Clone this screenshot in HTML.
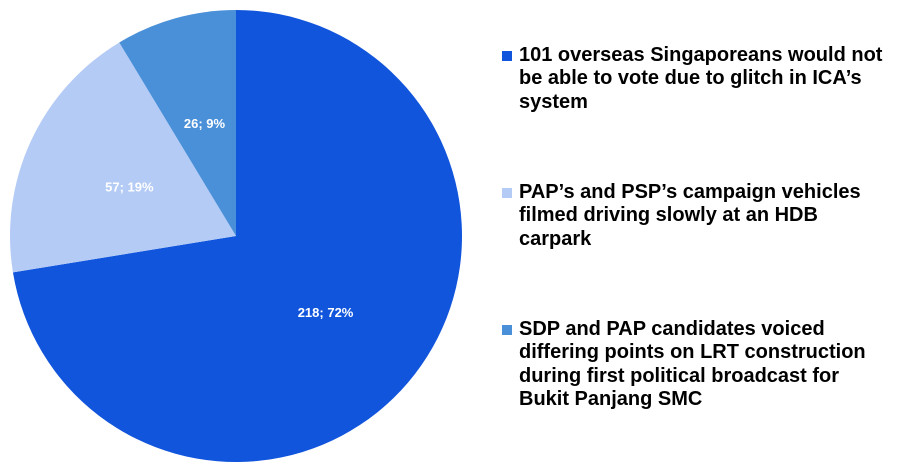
<!DOCTYPE html>
<html><head><meta charset="utf-8"><style>
body{margin:0;background:#fff;width:910px;height:475px;overflow:hidden;font-family:"Liberation Sans",Arial,sans-serif}
.leg{position:absolute;left:519px;font-weight:bold;font-size:20px;line-height:23.3px;color:#000;white-space:nowrap}
.mk{position:absolute;left:-17px;top:7px;width:10px;height:10px}
</style></head><body>
<svg id="chart" width="910" height="475" style="position:absolute;left:0;top:0"></svg>
<div class="leg" style="top:44px"><span class="mk" style="background:#1155dd"></span>101 overseas Singaporeans would not<br>be able to vote due to glitch in ICA’s<br>system</div>
<div class="leg" style="top:181px"><span class="mk" style="background:#b4cbf5"></span>PAP’s and PSP’s campaign vehicles<br>filmed driving slowly at an HDB<br>carpark</div>
<div class="leg" style="top:318px"><span class="mk" style="background:#4a90d9"></span>SDP and PAP candidates voiced<br>differing points on LRT construction<br>during first political broadcast for<br>Bukit Panjang SMC</div>
<script>
const categories=["ICA glitch","Campaign vehicles","LRT construction"];
const values=[218,57,26];
const colors=["#1155dd","#b4cbf5","#4a90d9"];
const svg=document.getElementById('chart');
const NS="http://www.w3.org/2000/svg";
const cx=236,cy=236,r=226;
const total=values.reduce((a,b)=>a+b,0);
let a0=0;
values.forEach((v,i)=>{
  const a1=a0+v/total*2*Math.PI;
  const p=(a)=>[cx+r*Math.sin(a),cy-r*Math.cos(a)];
  const [x0,y0]=p(a0),[x1,y1]=p(a1);
  const path=document.createElementNS(NS,'path');
  path.setAttribute('d',`M${cx},${cy}L${x0},${y0}A${r},${r} 0 ${a1-a0>Math.PI?1:0} 1 ${x1},${y1}Z`);
  path.setAttribute('fill',colors[i]);
  
  
  svg.appendChild(path);
  const am=(a0+a1)/2, lr=r*0.52;
  const t=document.createElementNS(NS,'text');
  t.setAttribute('x',cx+lr*Math.sin(am));
  t.setAttribute('y',cy-lr*Math.cos(am)+5);
  t.setAttribute('text-anchor','middle');
  t.setAttribute('fill','#fff');
  t.setAttribute('font-size','13');
  t.setAttribute('font-weight','bold');
  t.setAttribute('font-family','Liberation Sans, Arial, sans-serif');
  t.textContent=v+'; '+Math.round(v/total*100)+'%';
  
  
  svg.appendChild(t);
  a0=a1;
});
</script>
</body></html>
